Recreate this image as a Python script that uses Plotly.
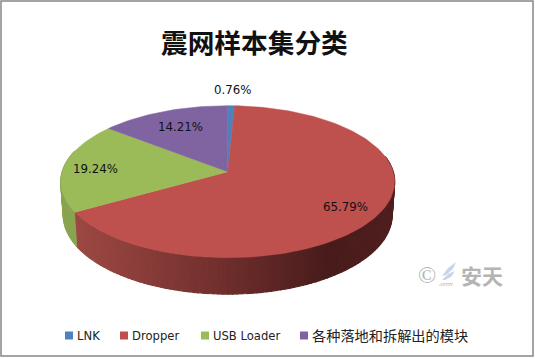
import numpy as np
import plotly.graph_objects as go

categories = ["LNK", "Dropper", "USB Loader", "各种落地和拆解出的模块"]
shares = [0.76, 65.79, 19.24, 14.21]
slice_colors = ["#4F81BD", "#BE504D", "#9BBB59", "#8064A2"]
title_text = "震网样本集分类"

W, H = 535, 359
APEX_X, APEX_Y = 227.7, 171.7
A, K, P = 165.5, 74.7, -0.1316
SIDE_SX, SIDE_SY, SIDE_Y = 0.985, 1.04, 204.6
LABEL_R = [1.27, 0.79, 0.78, 0.72]
LABEL_DX = [0, 0, -4, 0]
LABEL_DY = [0, 3.5, 2, 0]
CJK = "Noto Sans CJK SC"
LATIN = "DejaVu Sans"


def project(deg, r=1.0, sx=1.0, sy=1.0, y0=APEX_Y):
    t = np.radians(deg)
    u, v = r * np.sin(t), -r * np.cos(t)
    d = 1 + P * v
    return APEX_X + sx * A * u / d, y0 + sy * K * v / d


def lerp_hex(stops, f):
    xs = [s[0] for s in stops]
    rgb = [np.interp(f, xs, [s[1][i] for s in stops]) for i in range(3)]
    return "rgb(%d,%d,%d)" % tuple(int(round(c)) for c in rgb)


RED_SIDE = [(0.0, (160, 74, 70)), (0.12, (150, 68, 64)), (0.5, (110, 46, 44)),
            (0.8, (72, 28, 28)), (1.0, (80, 30, 30))]

fig = go.Figure()

edges = np.concatenate([[0], np.cumsum(shares)]) * 3.6

# side wall, front half only
STEP = 1.5
for a0 in np.arange(78, 286, STEP):
    a1 = a0 + STEP
    mid = (a0 + a1) / 2
    idx = int(np.searchsorted(edges, mid) - 1)
    x_top, y_top = project(np.array([a0, a1]))
    x_bot, y_bot = project(np.array([a1, a0]), sx=SIDE_SX, sy=SIDE_SY, y0=SIDE_Y)
    f = (float(np.mean(x_top)) - 60) / 334
    col = lerp_hex(RED_SIDE, f) if idx == 1 else "rgb(137,164,79)"
    fig.add_trace(go.Scatter(
        x=list(x_top) + list(x_bot) + [x_top[0]], y=list(y_top) + list(y_bot) + [y_top[0]],
        mode="lines", fill="toself", fillcolor=col, line=dict(color=col, width=1.2),
        hoverinfo="skip", showlegend=False))

# top face
for i, cat in enumerate(categories):
    angs = np.linspace(edges[i], edges[i + 1], max(3, int((edges[i + 1] - edges[i]) / 1.5)))
    xs, ys = project(angs)
    fig.add_trace(go.Scatter(
        x=[APEX_X] + list(xs) + [APEX_X], y=[APEX_Y] + list(ys) + [APEX_Y],
        mode="lines", fill="toself", fillcolor=slice_colors[i],
        line=dict(color=slice_colors[i], width=0.5), name=cat, showlegend=False))

# value labels
annotations = []
for i, v in enumerate(shares):
    mid = (edges[i] + edges[i + 1]) / 2
    lx, ly = project(mid, r=LABEL_R[i])
    annotations.append(dict(x=float(lx) + LABEL_DX[i], y=float(ly) + LABEL_DY[i], text="%.2f%%" % v,
                            showarrow=False, font=dict(family=LATIN, size=11.8, color="#111111")))

# legend row
swatch_x = [69, 124, 205, 304]
text_x = [75, 130, 211, 310]
for i, cat in enumerate(categories):
    fig.add_trace(go.Scatter(x=[swatch_x[i]], y=[335.5], mode="markers", name=cat,
                             marker=dict(symbol="square", size=8, color=slice_colors[i]),
                             showlegend=False, hoverinfo="name"))
    big = i == 3
    annotations.append(dict(x=text_x[i], y=335.5 if not big else 334.5, text=cat, showarrow=False, xanchor="left",
                            font=dict(family=CJK if big else LATIN, size=14.2 if big else 11.6, color="#222222")))

# title
annotations.append(dict(x=254, y=41, text="<b>%s</b>" % title_text, showarrow=False,
                        font=dict(family=CJK, size=26.7, color="#111111")))

# watermark
annotations.append(dict(x=427, y=275, text="©", showarrow=False,
                        font=dict(family="Liberation Serif", size=24, color="#B4B4B4")))
annotations.append(dict(x=482, y=275, text="<b>安天</b>", showarrow=False,
                        font=dict(family=CJK, size=21, color="#B4B4B4")))
annotations.append(dict(x=446, y=284, text="ANTIY", showarrow=False,
                        font=dict(family="Liberation Serif", size=4.5, color="#999999")))

shapes = [
    dict(type="rect", x0=1, y0=1, x1=533, y1=356, line=dict(color="#868686", width=1.5), layer="below"),
    dict(type="path", path="M 442 276 L 448 268 L 456 262 L 453 269 L 446 275 Z",
         fillcolor="#C9D6E8", line=dict(width=0)),
    dict(type="path", path="M 442 280 L 448 274 L 455 271 L 451 277 L 445 280 Z",
         fillcolor="#C9D6E8", line=dict(width=0)),
]

fig.update_layout(
    width=W, height=H, margin=dict(l=0, r=0, t=0, b=0),
    paper_bgcolor="white", plot_bgcolor="white", showlegend=False,
    xaxis=dict(range=[0, W], visible=False, fixedrange=True),
    yaxis=dict(range=[H, 0], visible=False, fixedrange=True),
    annotations=annotations, shapes=shapes,
)
fig.write_html("out.html", config=dict(displayModeBar=False),
               post_script="document.body.style.margin='0';document.documentElement.style.overflow='hidden';")
